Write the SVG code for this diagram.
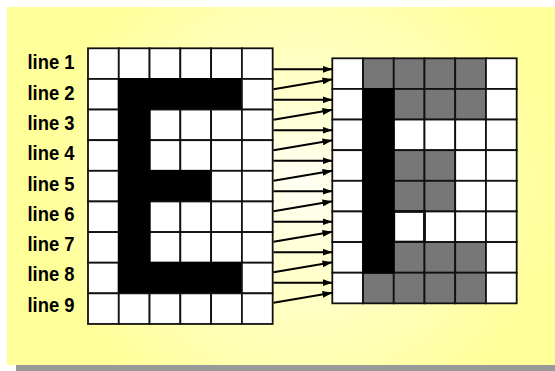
<svg xmlns="http://www.w3.org/2000/svg" width="555" height="371" viewBox="0 0 555 371">
<defs>
<radialGradient id="bg" gradientUnits="userSpaceOnUse" cx="302" cy="185" r="260">
<stop offset="0" stop-color="#FFFFF6"/>
<stop offset="0.35" stop-color="#FFFFCC"/>
<stop offset="1" stop-color="#FFFF99"/>
</radialGradient>
<marker id="ah" markerUnits="userSpaceOnUse" markerWidth="10" markerHeight="7" refX="10" refY="3.5" orient="auto">
<path d="M0,0 L10,3.5 L0,7 z" fill="#000"/>
</marker>
<style>
.w{fill:#fff;stroke:#111;stroke-width:1.8}
.b{fill:#000;stroke:#000;stroke-width:1.8}
.g{fill:#777;stroke:#111;stroke-width:1.8}
.lbl{font-family:"Liberation Sans",Arial,sans-serif;font-weight:bold;font-size:21px;fill:#000}
.c line{stroke:#000;stroke-width:2;marker-end:url(#ah)}
</style>
</defs>
<rect x="16" y="16" width="548" height="358" fill="#999"/>
<rect x="7" y="7" width="548" height="358" fill="url(#bg)"/>
<g id="labels">
<text class="lbl" x="27.5" y="69.3" textLength="47" lengthAdjust="spacingAndGlyphs">line 1</text>
<text class="lbl" x="27.5" y="99.6" textLength="47" lengthAdjust="spacingAndGlyphs">line 2</text>
<text class="lbl" x="27.5" y="129.9" textLength="47" lengthAdjust="spacingAndGlyphs">line 3</text>
<text class="lbl" x="27.5" y="160.2" textLength="47" lengthAdjust="spacingAndGlyphs">line 4</text>
<text class="lbl" x="27.5" y="190.5" textLength="47" lengthAdjust="spacingAndGlyphs">line 5</text>
<text class="lbl" x="27.5" y="220.8" textLength="47" lengthAdjust="spacingAndGlyphs">line 6</text>
<text class="lbl" x="27.5" y="251.1" textLength="47" lengthAdjust="spacingAndGlyphs">line 7</text>
<text class="lbl" x="27.5" y="281.4" textLength="47" lengthAdjust="spacingAndGlyphs">line 8</text>
<text class="lbl" x="27.5" y="311.7" textLength="47" lengthAdjust="spacingAndGlyphs">line 9</text>
</g>
<g id="left-grid">
<rect class="w" x="88" y="48.3" width="30.78" height="30.63"/>
<rect class="w" x="118.78" y="48.3" width="30.78" height="30.63"/>
<rect class="w" x="149.56" y="48.3" width="30.78" height="30.63"/>
<rect class="w" x="180.34" y="48.3" width="30.78" height="30.63"/>
<rect class="w" x="211.12" y="48.3" width="30.78" height="30.63"/>
<rect class="w" x="241.9" y="48.3" width="30.78" height="30.63"/>
<rect class="w" x="88" y="78.93" width="30.78" height="30.63"/>
<rect class="b" x="118.78" y="78.93" width="123.12" height="30.63"/>
<rect class="w" x="241.9" y="78.93" width="30.78" height="30.63"/>
<rect class="w" x="88" y="109.56" width="30.78" height="30.63"/>
<rect class="w" x="149.56" y="109.56" width="30.78" height="30.63"/>
<rect class="w" x="180.34" y="109.56" width="30.78" height="30.63"/>
<rect class="w" x="211.12" y="109.56" width="30.78" height="30.63"/>
<rect class="w" x="241.9" y="109.56" width="30.78" height="30.63"/>
<rect class="w" x="88" y="140.19" width="30.78" height="30.63"/>
<rect class="w" x="149.56" y="140.19" width="30.78" height="30.63"/>
<rect class="w" x="180.34" y="140.19" width="30.78" height="30.63"/>
<rect class="w" x="211.12" y="140.19" width="30.78" height="30.63"/>
<rect class="w" x="241.9" y="140.19" width="30.78" height="30.63"/>
<rect class="w" x="88" y="170.82" width="30.78" height="30.63"/>
<rect class="b" x="149.56" y="170.82" width="61.56" height="30.63"/>
<rect class="w" x="211.12" y="170.82" width="30.78" height="30.63"/>
<rect class="w" x="241.9" y="170.82" width="30.78" height="30.63"/>
<rect class="w" x="88" y="201.45" width="30.78" height="30.63"/>
<rect class="w" x="149.56" y="201.45" width="30.78" height="30.63"/>
<rect class="w" x="180.34" y="201.45" width="30.78" height="30.63"/>
<rect class="w" x="211.12" y="201.45" width="30.78" height="30.63"/>
<rect class="w" x="241.9" y="201.45" width="30.78" height="30.63"/>
<rect class="w" x="88" y="232.08" width="30.78" height="30.63"/>
<rect class="w" x="149.56" y="232.08" width="30.78" height="30.63"/>
<rect class="w" x="180.34" y="232.08" width="30.78" height="30.63"/>
<rect class="w" x="211.12" y="232.08" width="30.78" height="30.63"/>
<rect class="w" x="241.9" y="232.08" width="30.78" height="30.63"/>
<rect class="w" x="88" y="262.71" width="30.78" height="30.63"/>
<rect class="b" x="118.78" y="262.71" width="123.12" height="30.63"/>
<rect class="w" x="241.9" y="262.71" width="30.78" height="30.63"/>
<rect class="b" x="118.78" y="78.93" width="30.78" height="214.41"/>
<rect class="w" x="88" y="293.34" width="30.78" height="30.63"/>
<rect class="w" x="118.78" y="293.34" width="30.78" height="30.63"/>
<rect class="w" x="149.56" y="293.34" width="30.78" height="30.63"/>
<rect class="w" x="180.34" y="293.34" width="30.78" height="30.63"/>
<rect class="w" x="211.12" y="293.34" width="30.78" height="30.63"/>
<rect class="w" x="241.9" y="293.34" width="30.78" height="30.63"/>
</g>
<g id="right-grid">
<rect class="w" x="332.3" y="58.3" width="30.73" height="30.63"/>
<rect class="g" x="363.03" y="58.3" width="30.73" height="30.63"/>
<rect class="g" x="393.76" y="58.3" width="30.73" height="30.63"/>
<rect class="g" x="424.49" y="58.3" width="30.73" height="30.63"/>
<rect class="g" x="455.22" y="58.3" width="30.73" height="30.63"/>
<rect class="w" x="485.95" y="58.3" width="30.73" height="30.63"/>
<rect class="w" x="332.3" y="88.93" width="30.73" height="30.63"/>
<rect class="g" x="393.76" y="88.93" width="30.73" height="30.63"/>
<rect class="g" x="424.49" y="88.93" width="30.73" height="30.63"/>
<rect class="g" x="455.22" y="88.93" width="30.73" height="30.63"/>
<rect class="w" x="485.95" y="88.93" width="30.73" height="30.63"/>
<rect class="w" x="332.3" y="119.56" width="30.73" height="30.63"/>
<rect class="w" x="393.76" y="119.56" width="30.73" height="30.63"/>
<rect class="w" x="424.49" y="119.56" width="30.73" height="30.63"/>
<rect class="w" x="455.22" y="119.56" width="30.73" height="30.63"/>
<rect class="w" x="485.95" y="119.56" width="30.73" height="30.63"/>
<rect class="w" x="332.3" y="150.19" width="30.73" height="30.63"/>
<rect class="g" x="393.76" y="150.19" width="30.73" height="30.63"/>
<rect class="g" x="424.49" y="150.19" width="30.73" height="30.63"/>
<rect class="w" x="455.22" y="150.19" width="30.73" height="30.63"/>
<rect class="w" x="485.95" y="150.19" width="30.73" height="30.63"/>
<rect class="w" x="332.3" y="180.82" width="30.73" height="30.63"/>
<rect class="g" x="393.76" y="180.82" width="30.73" height="30.63"/>
<rect class="g" x="424.49" y="180.82" width="30.73" height="30.63"/>
<rect class="w" x="455.22" y="180.82" width="30.73" height="30.63"/>
<rect class="w" x="485.95" y="180.82" width="30.73" height="30.63"/>
<rect class="w" x="332.3" y="211.45" width="30.73" height="30.63"/>
<rect class="w" x="393.76" y="211.45" width="30.73" height="30.63"/>
<rect class="w" x="424.49" y="211.45" width="30.73" height="30.63"/>
<rect class="w" x="455.22" y="211.45" width="30.73" height="30.63"/>
<rect class="w" x="485.95" y="211.45" width="30.73" height="30.63"/>
<rect x="393.76" y="211.45" width="30.73" height="30.63" fill="none" stroke="#111" stroke-width="2.8"/>
<rect class="w" x="332.3" y="242.08" width="30.73" height="30.63"/>
<rect class="g" x="393.76" y="242.08" width="30.73" height="30.63"/>
<rect class="g" x="424.49" y="242.08" width="30.73" height="30.63"/>
<rect class="g" x="455.22" y="242.08" width="30.73" height="30.63"/>
<rect class="w" x="485.95" y="242.08" width="30.73" height="30.63"/>
<rect class="w" x="332.3" y="272.71" width="30.73" height="30.63"/>
<rect class="g" x="363.03" y="272.71" width="30.73" height="30.63"/>
<rect class="g" x="393.76" y="272.71" width="30.73" height="30.63"/>
<rect class="g" x="424.49" y="272.71" width="30.73" height="30.63"/>
<rect class="g" x="455.22" y="272.71" width="30.73" height="30.63"/>
<rect class="w" x="485.95" y="272.71" width="30.73" height="30.63"/>
<rect class="b" x="363.03" y="88.93" width="30.73" height="183.78"/>
</g>
<g id="connectors" class="c">
<line x1="273.5" y1="69.3" x2="332.5" y2="69.3"/>
<line x1="273.5" y1="89.3" x2="332.5" y2="79.3"/>
<line x1="273.5" y1="99.78" x2="332.5" y2="99.78"/>
<line x1="273.5" y1="119.78" x2="332.5" y2="109.78"/>
<line x1="273.5" y1="130.26" x2="332.5" y2="130.26"/>
<line x1="273.5" y1="150.26" x2="332.5" y2="140.26"/>
<line x1="273.5" y1="160.74" x2="332.5" y2="160.74"/>
<line x1="273.5" y1="180.74" x2="332.5" y2="170.74"/>
<line x1="273.5" y1="191.22" x2="332.5" y2="191.22"/>
<line x1="273.5" y1="211.22" x2="332.5" y2="201.22"/>
<line x1="273.5" y1="221.7" x2="332.5" y2="221.7"/>
<line x1="273.5" y1="241.7" x2="332.5" y2="231.7"/>
<line x1="273.5" y1="252.18" x2="332.5" y2="252.18"/>
<line x1="273.5" y1="272.18" x2="332.5" y2="262.18"/>
<line x1="273.5" y1="282.66" x2="332.5" y2="282.66"/>
<line x1="273.5" y1="302.66" x2="332.5" y2="292.66"/>
</g>
</svg>
